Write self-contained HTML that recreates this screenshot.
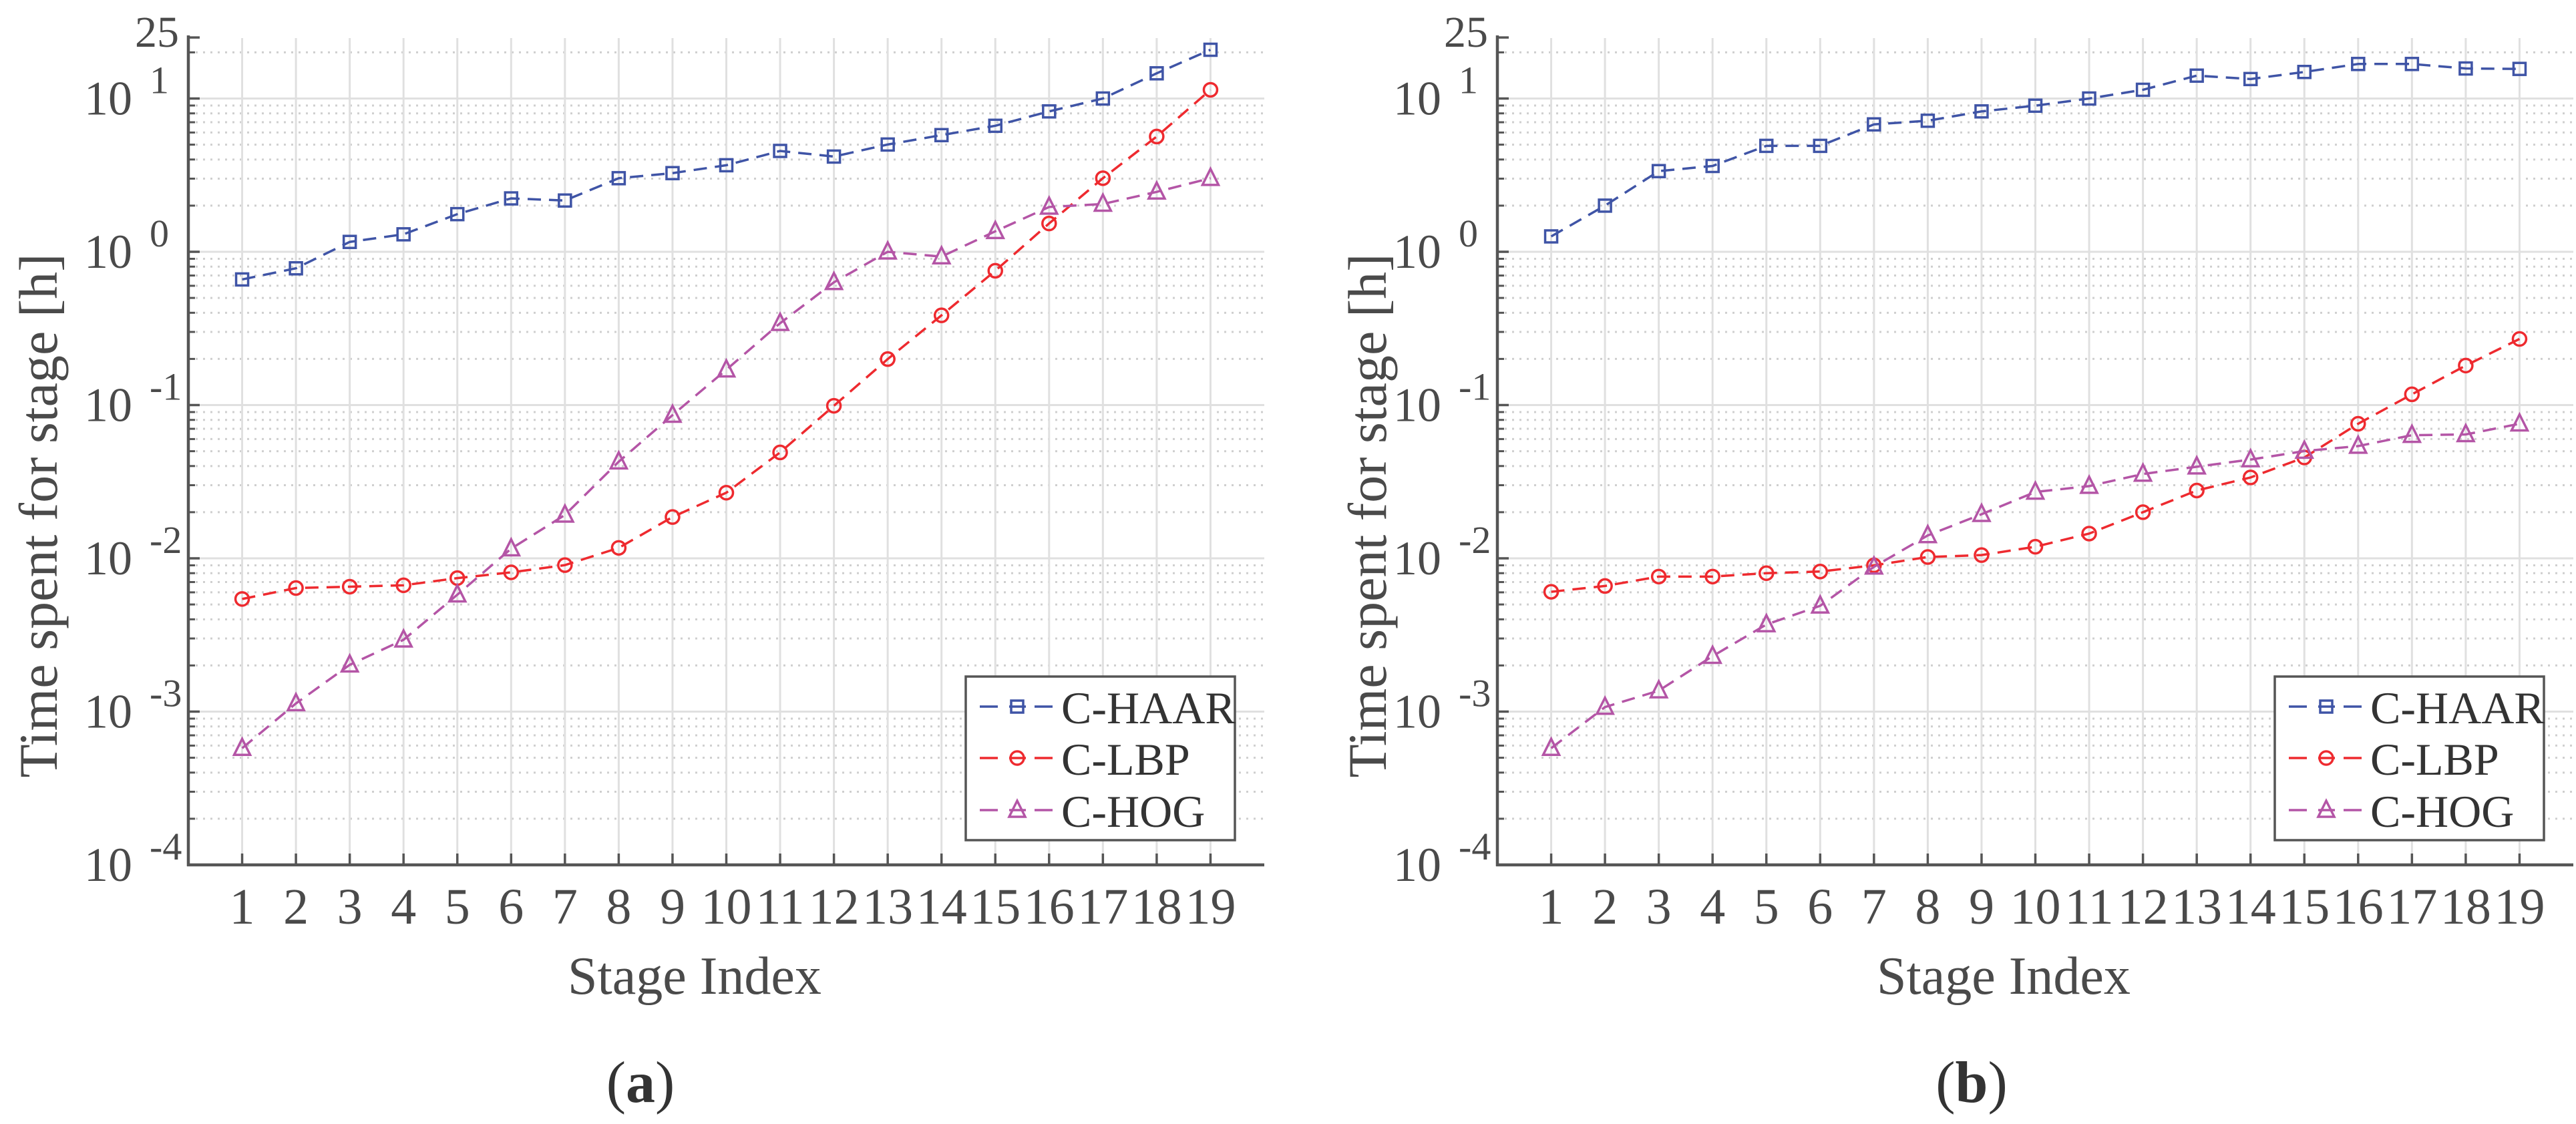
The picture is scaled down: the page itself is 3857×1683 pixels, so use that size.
<!DOCTYPE html>
<html><head><meta charset="utf-8"><style>
html,body{margin:0;padding:0;background:#fff;}
svg{display:block;}
svg, text, tspan{font-family:"Liberation Serif","DejaVu Serif",serif;}
</style></head><body>
<svg id="fig" width="3857" height="1683" viewBox="0 0 3857 1683" xmlns="http://www.w3.org/2000/svg" font-family="Liberation Serif, serif"></svg>
<script>
const categories = [1,2,3,4,5,6,7,8,9,10,11,12,13,14,15,16,17,18,19];
const haarA = [0.66,0.78,1.16,1.30,1.76,2.23,2.16,3.02,3.26,3.67,4.55,4.18,5.01,5.77,6.64,8.24,10,14.6,20.8];
const lbpA = [0.00543,0.0064,0.00653,0.00667,0.00743,0.0081,0.00903,0.0117,0.0186,0.0268,0.0491,0.0989,0.1995,0.385,0.752,1.53,3.02,5.65,11.4];
const hogA = [0.000577,0.00113,0.00202,0.00294,0.00579,0.01156,0.0192,0.0427,0.086,0.17,0.342,0.632,1.0,0.93,1.36,1.96,2.05,2.46,3.02];
const haarB = [1.26,2.0,3.36,3.63,4.91,4.91,6.78,7.16,8.24,8.98,10,11.4,14.1,13.4,14.9,16.8,16.8,15.7,15.6];
const lbpB = [0.00605,0.0066,0.0076,0.0076,0.008,0.0082,0.009,0.0102,0.0105,0.0119,0.0145,0.02,0.0277,0.0337,0.0455,0.0755,0.1175,0.181,0.27];
const hogB = [0.000577,0.00107,0.00137,0.0023,0.0037,0.0049,0.0088,0.0141,0.0194,0.0271,0.0296,0.0355,0.0396,0.0441,0.0501,0.054,0.0636,0.0643,0.0755];
const seriesNames = ["C-HAAR","C-LBP","C-HOG"];
const yExps = [-4,-3,-2,-1,0,1];

const NS="http://www.w3.org/2000/svg";
const svg=document.getElementById('fig');
function mk(tag,attrs,parent){const e=document.createElementNS(NS,tag);for(const k in attrs)e.setAttribute(k,attrs[k]);(parent||svg).appendChild(e);return e;}
const FF='"Liberation Serif", serif';
const colors=["#3f54a6","#ee2a2f","#b455a6"];

function panel(ox, data, letter){
  const g=mk('g',{'font-family':FF});
  
  
  const L=ox+282, R=ox+1893, T=57, B=1295;
  const dec=229.5;
  const y=v=>B-(Math.log10(v)+4)*dec;
  const x=i=>L+(i)*(R-L)/20;
  for(let e=-4;e<=1;e++){for(let m=2;m<=9;m++){const v=m*Math.pow(10,e);if(v>25)continue;const yy=y(v);
    const l=mk('line',{x1:L,x2:R,y1:yy,y2:yy,stroke:'#cfcfcf','stroke-width':3,'stroke-dasharray':'3 8'},g);
    
    mk('line',{x1:L,x2:L+10,y1:yy,y2:yy,stroke:'#555','stroke-width':3},g);}}
  categories.forEach(c=>{const xx=x(c);
    const l=mk('line',{x1:xx,x2:xx,y1:T,y2:B,stroke:'#e0e0e0','stroke-width':3},g);
    
    mk('line',{x1:xx,x2:xx,y1:B,y2:B-17,stroke:'#555','stroke-width':3.5},g);
    const t=mk('text',{x:xx,y:B+88,'font-size':76,'text-anchor':'middle',fill:'#4a4a4a','font-family':FF},g);t.textContent=c;
    
  });
  yExps.forEach(e=>{const yy=y(Math.pow(10,e));
    const l=mk('line',{x1:L,x2:R,y1:yy,y2:yy,stroke:'#e0e0e0','stroke-width':3},g);
    
    mk('line',{x1:L,x2:L+17,y1:yy,y2:yy,stroke:'#555','stroke-width':3.5},g);
    const t=mk('text',{x:L-84,y:yy+24,'font-size':72,'text-anchor':'end',fill:'#4a4a4a','font-family':FF},g);t.textContent='10';
    
    const s=mk('text',{x:L-58,y:yy-8,'font-size':58,'text-anchor':'start',fill:'#4a4a4a','font-family':FF},g);s.textContent=String(e);
    
  });
  const yt=y(25);
  mk('line',{x1:L,x2:L+17,y1:yt,y2:yt,stroke:'#555','stroke-width':3.5},g);
  const t25=mk('text',{x:L-14,y:yt+14,'font-size':66,'text-anchor':'end',fill:'#4a4a4a','font-family':FF},g);t25.textContent='25';
  
  mk('line',{x1:L,x2:L,y1:T-4,y2:B+2,stroke:'#555','stroke-width':4.5},g);
  mk('line',{x1:L-2,x2:R,y1:B,y2:B,stroke:'#555','stroke-width':4.5},g);
  data.forEach((vals,si)=>{
    const c=colors[si];
    const pts=vals.map((v,i)=>x(categories[i])+','+y(v)).join(' ');
    const pl=mk('polyline',{points:pts,fill:'none',stroke:c,'stroke-width':3.5,'stroke-dasharray':'20 12'},g);
    
    vals.forEach((v,i)=>{marker(g,si,x(categories[i]),y(v),c);});
  });
  const lx=ox+1446, ly=1013;
  const lb=mk('rect',{x:lx,y:ly,width:403,height:245,fill:'#fff',stroke:'#555','stroke-width':3.5},g);
  
  [1058,1135,1213].forEach((yy,si)=>{
    const c=colors[si];
    mk('line',{x1:lx+21,x2:lx+48,y1:yy,y2:yy,stroke:c,'stroke-width':3.5},g);
    mk('line',{x1:lx+103,x2:lx+130,y1:yy,y2:yy,stroke:c,'stroke-width':3.5},g);
    mk('line',{x1:lx+65,x2:lx+90,y1:yy,y2:yy,stroke:c,'stroke-width':3.5},g);
    marker(g,si,lx+77,yy,c);
    const t=mk('text',{x:lx+143,y:yy+25,'font-size':68,fill:'#333','font-family':FF},g);t.textContent=seriesNames[si];
    
  });
  const xt=mk('text',{x:ox+1040,y:1488,'font-size':80,'text-anchor':'middle',fill:'#4a4a4a','font-family':FF},g);xt.textContent='Stage Index';
  
  const yx=ox+(letter==='a'?85:115);
  const ytl=mk('text',{x:yx,y:772,'font-size':82,'text-anchor':'middle',fill:'#4a4a4a','font-family':FF,transform:'rotate(-90 '+yx+' 772)'},g);ytl.textContent='Time spent for stage [h]';
  
  const cap=mk('text',{x:ox+(letter==='a'?959:992),y:1650,'font-size':88,'text-anchor':'middle',fill:'#333','font-family':FF},g);
  cap.innerHTML='(<tspan font-weight="bold">'+letter+'</tspan>)';
  
}
function marker(g,si,cx,cy,c){
  let m;
  if(si===0) m=mk('rect',{x:cx-9,y:cy-9,width:18,height:18,fill:'none',stroke:c,'stroke-width':3.5},g);
  else if(si===1) m=mk('circle',{cx:cx,cy:cy,r:10,fill:'none',stroke:c,'stroke-width':3.5},g);
  else m=mk('polygon',{points:(cx)+','+(cy-14)+' '+(cx-12)+','+(cy+10)+' '+(cx+12)+','+(cy+10),fill:'none',stroke:c,'stroke-width':3.5},g);
  
}
panel(0,[haarA,lbpA,hogA],'a');
panel(1960,[haarB,lbpB,hogB],'b');
</script>
</body></html>
